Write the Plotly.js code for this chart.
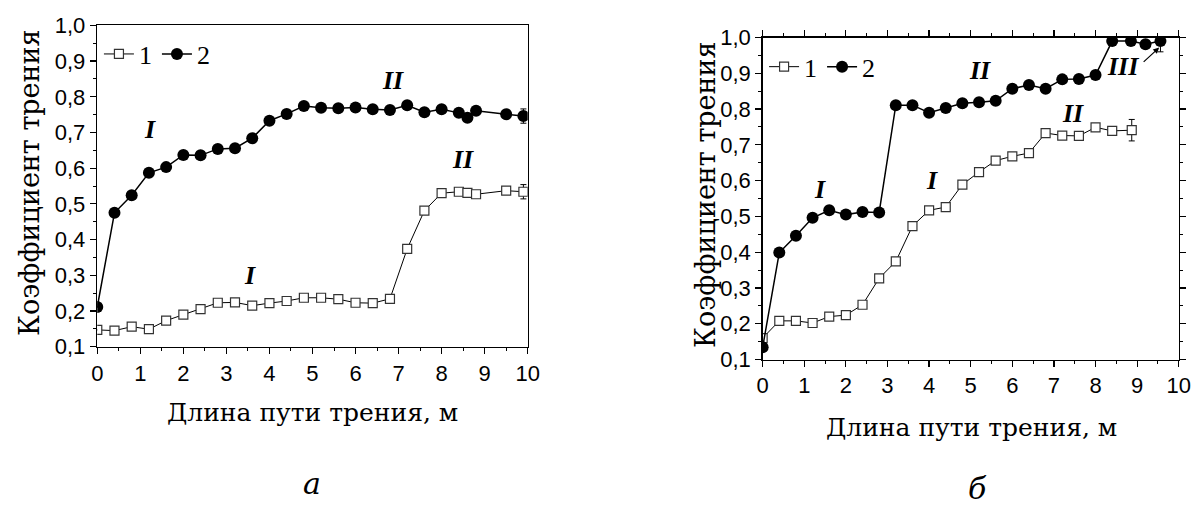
<!DOCTYPE html>
<html><head><meta charset="utf-8">
<script src="https://cdn.plot.ly/plotly-3.0.1.min.js"></script>
<style>html,body{margin:0;padding:0;background:#fff}#c{width:1192px;height:509px}</style>
</head><body><div id="c"></div>
<script>
// Panel а
const xA1 = [0,0.4,0.8,1.2,1.6,2.0,2.4,2.8,3.2,3.6,4.0,4.4,4.8,5.2,5.6,6.0,6.4,6.8,7.2,7.6,8.0,8.4,8.6,8.8,9.5,9.9];
const yA1 = [0.147,0.145,0.156,0.149,0.173,0.190,0.205,0.223,0.224,0.215,0.222,0.228,0.237,0.237,0.233,0.223,0.222,0.234,0.374,0.481,0.530,0.534,0.531,0.527,0.537,0.534];
const xA2 = [0,0.4,0.8,1.2,1.6,2.0,2.4,2.8,3.2,3.6,4.0,4.4,4.8,5.2,5.6,6.0,6.4,6.8,7.2,7.6,8.0,8.4,8.6,8.8,9.5,9.9];
const yA2 = [0.211,0.475,0.524,0.587,0.603,0.637,0.636,0.654,0.656,0.684,0.733,0.752,0.774,0.769,0.768,0.770,0.765,0.763,0.776,0.757,0.765,0.755,0.741,0.761,0.751,0.746];
const errA1 = 0.02, errA2 = 0.02;
// Panel б
const xB1 = [0,0.4,0.8,1.2,1.6,2.0,2.4,2.8,3.2,3.6,4.0,4.4,4.8,5.2,5.6,6.0,6.4,6.8,7.2,7.6,8.0,8.4,8.87];
const yB1 = [0.16,0.208,0.208,0.202,0.220,0.224,0.253,0.327,0.374,0.473,0.517,0.526,0.589,0.624,0.656,0.668,0.677,0.733,0.726,0.725,0.749,0.739,0.741];
const xB2 = [0,0.4,0.8,1.2,1.6,2.0,2.4,2.8,3.2,3.6,4.0,4.4,4.8,5.2,5.6,6.0,6.4,6.8,7.2,7.6,8.0,8.4,8.85,9.2,9.56];
const yB2 = [0.134,0.399,0.446,0.496,0.517,0.505,0.512,0.511,0.811,0.811,0.790,0.803,0.816,0.819,0.823,0.857,0.867,0.857,0.883,0.884,0.895,0.990,0.990,0.981,0.990];
const errB1 = 0.03, errB2 = 0.03;
const seriesNames = ['1','2'];
const xTitle = 'Длина пути трения, м';
const yTitle = 'Коэффициент трения';
const panelLabels = ['а','б'];

function lastErr(arr, e){ return arr.map((v,i)=> i===arr.length-1 ? e : 0); }

const SERIF = '"Liberation Serif", serif';
const CYR = '"DejaVu Serif", serif';
const SANS = '"Liberation Sans", Arial, sans-serif';

const sqMarker = {symbol:'square', size:9, color:'#fff', line:{color:'#333', width:1.2}};
const ciMarker = {symbol:'circle', size:12, color:'#000', line:{width:0}};
const errStyle = (a)=>({type:'data', array:a, visible:true, color:'#000', thickness:1, width:3});

const traces = [
  {x:xA1, y:yA1, xaxis:'x', yaxis:'y', name:seriesNames[0], mode:'lines+markers', line:{color:'#000', width:1}, marker:sqMarker, error_y:errStyle(lastErr(yA1, errA1)), legend:'legend'},
  {x:xA2, y:yA2, xaxis:'x', yaxis:'y', name:seriesNames[1], mode:'lines+markers', line:{color:'#000', width:1.5}, marker:ciMarker, error_y:errStyle(lastErr(yA2, errA2)), legend:'legend'},
  {x:xB1, y:yB1, xaxis:'x2', yaxis:'y2', name:seriesNames[0], mode:'lines+markers', line:{color:'#000', width:1}, marker:sqMarker, error_y:errStyle(lastErr(yB1, errB1)), legend:'legend2'},
  {x:xB2, y:yB2, xaxis:'x2', yaxis:'y2', name:seriesNames[1], mode:'lines+markers', line:{color:'#000', width:1.5}, marker:ciMarker, error_y:errStyle(lastErr(yB2, errB2)), legend:'legend2'}
];

function xax(domain, mirror, anchor){
  return {domain:domain, anchor:anchor, range:[0,10], dtick:1, tick0:0, showgrid:false, zeroline:false,
    showline:true, linecolor:'#000', linewidth:1.5, mirror:mirror, ticks:'outside', ticklen:6, tickwidth:1.2, tickcolor:'#000',
    minor:{dtick:0.5, ticks:'outside', ticklen:3, tickwidth:1, tickcolor:'#000'},
    tickfont:{family:SANS, size:22, color:'#000'}, automargin:false};
}
function yax(domain, mirror, anchor){
  return {domain:domain, anchor:anchor, range:[0.1,1.0], dtick:0.1, tick0:0.1, tickformat:'.1f', showgrid:false, zeroline:false,
    showline:true, linecolor:'#000', linewidth:1.5, mirror:mirror, ticks:'outside', ticklen:6, tickwidth:1.2, tickcolor:'#000',
    minor:{dtick:0.05, ticks:'outside', ticklen:3, tickwidth:1, tickcolor:'#000'},
    tickfont:{family:SANS, size:22, color:'#000'}, automargin:false};
}

const titleFont = {family:CYR, size:25, color:'#000'};
const yTitleFont = {family:CYR, size:27, color:'#000'};
function roman(t, x, y, xr, yr){ return {text:'<b><i>'+t+'</i></b>', x:x, y:y, xref:xr, yref:yr, showarrow:false, font:{family:SERIF, size:26, color:'#000'}}; }
function ptxt(t, px, py, opts){ return Object.assign({text:t, x:px/1192, y:1-py/509, xref:'paper', yref:'paper', showarrow:false, xanchor:'center', yanchor:'middle', font:titleFont}, opts||{}); }

const layout = {
  width:1192, height:509, margin:{l:0,r:0,t:0,b:0}, paper_bgcolor:'#fff', plot_bgcolor:'#fff',
  font:{family:SERIF, color:'#000'},
  separators:', ',
  showlegend:true,
  xaxis: xax([0.0816,0.4427], true, 'y'),
  yaxis: yax([0.3189,0.9501], true, 'x'),
  xaxis2: xax([0.6398,0.9889], 'ticks', 'y2'),
  yaxis2: yax([0.2937,0.9263], 'ticks', 'x2'),
  legend:{x:0.083, y:0.94, xanchor:'left', yanchor:'top', orientation:'h', bgcolor:'rgba(0,0,0,0)', font:{family:SERIF, size:26, color:'#000'}, itemwidth:30, tracegroupgap:0},
  legend2:{x:0.641, y:0.915, xanchor:'left', yanchor:'top', orientation:'h', bgcolor:'rgba(0,0,0,0)', font:{family:SERIF, size:26, color:'#000'}, itemwidth:30, tracegroupgap:0},
  annotations:[
    ptxt(xTitle, 312, 412),
    ptxt(xTitle, 971, 427),
    ptxt(yTitle, 29, 183, {textangle:-90, font:yTitleFont}),
    ptxt(yTitle, 705, 195, {textangle:-90, font:yTitleFont}),
    roman('I', 1.22, 0.707, 'x', 'y'),
    roman('II', 6.88, 0.847, 'x', 'y'),
    roman('II', 8.50, 0.623, 'x', 'y'),
    roman('I', 3.55, 0.298, 'x', 'y'),
    roman('I', 1.38, 0.576, 'x2', 'y2'),
    roman('I', 4.06, 0.600, 'x2', 'y2'),
    roman('II', 5.22, 0.909, 'x2', 'y2'),
    roman('II', 7.47, 0.788, 'x2', 'y2'),
    roman('III', 8.67, 0.918, 'x2', 'y2'),
    {text:'', x:9.53, y:0.972, xref:'x2', yref:'y2', ax:9.12, ay:0.928, axref:'x2', ayref:'y2', showarrow:true, arrowhead:2, arrowsize:1, arrowwidth:1.2, arrowcolor:'#000', standoff:0},
    ptxt('<i>'+panelLabels[0]+'</i>', 312, 483, {font:{family:CYR, size:30, color:'#000'}}),
    ptxt('<i>'+panelLabels[1]+'</i>', 977, 488, {font:{family:CYR, size:30, color:'#000'}})
  ]
};

Plotly.newPlot('c', traces, layout, {displayModeBar:false, staticPlot:true});
</script>
</body></html>
